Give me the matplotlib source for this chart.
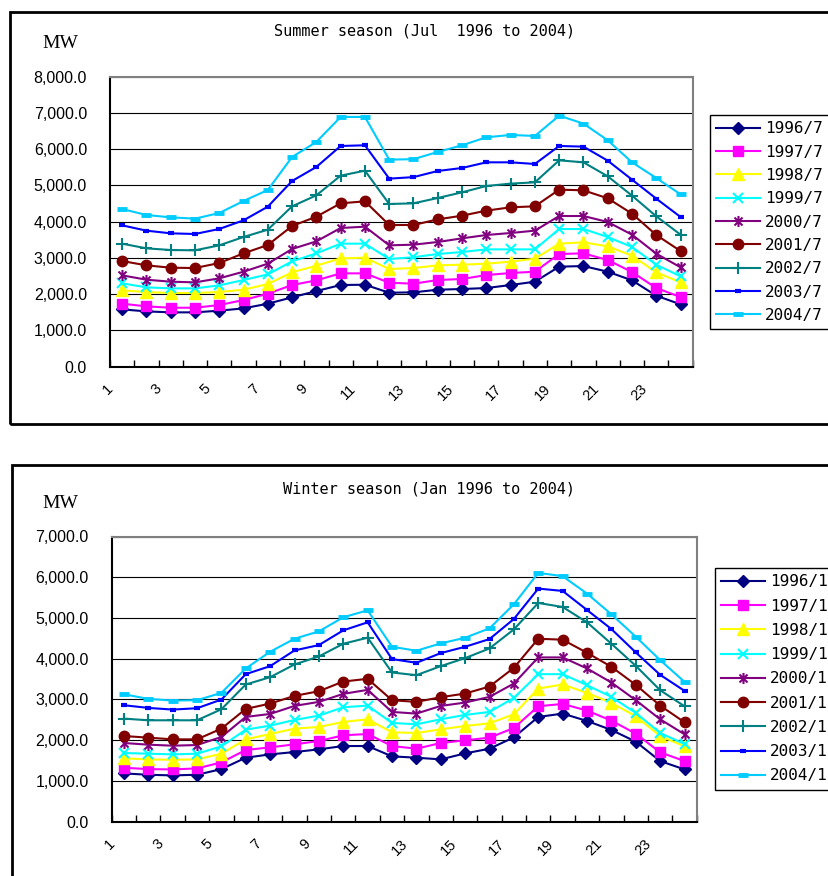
import matplotlib
matplotlib.use("Agg")
import matplotlib.pyplot as plt
from matplotlib.patches import Rectangle
from matplotlib.path import Path
from matplotlib.ticker import FuncFormatter, FixedLocator, MultipleLocator
from matplotlib.transforms import ScaledTranslation

# ---------------------------------------------------------------- data
hours = list(range(1, 25))
hour_tick_labels = ["1", "3", "5", "7", "9", "11", "13", "15", "17", "19", "21", "23"]

summer_labels = ["1996/7", "1997/7", "1998/7", "1999/7", "2000/7",
                 "2001/7", "2002/7", "2003/7", "2004/7"]
winter_labels = ["1996/1", "1997/1", "1998/1", "1999/1", "2000/1",
                 "2001/1", "2002/1", "2003/1", "2004/1"]

summer_1996 = [1581, 1526, 1499, 1499, 1545, 1609, 1738, 1913, 2087, 2253, 2262, 2041,
               2051, 2124, 2143, 2170, 2253, 2345, 2759, 2777, 2621, 2382, 1959, 1720]
summer_1997 = [1738, 1664, 1627, 1627, 1701, 1839, 2014, 2253, 2382, 2575, 2575, 2317,
               2290, 2391, 2419, 2529, 2584, 2621, 3109, 3127, 2943, 2612, 2170, 1922]
summer_1998 = [2106, 2060, 2032, 2032, 2060, 2124, 2281, 2603, 2787, 2989, 3007, 2695,
               2722, 2796, 2814, 2842, 2897, 2980, 3394, 3431, 3320, 3063, 2603, 2327]
summer_1999 = [2299, 2189, 2161, 2161, 2244, 2391, 2547, 2906, 3127, 3394, 3394, 2971,
               3020, 3109, 3164, 3237, 3237, 3237, 3798, 3798, 3578, 3302, 2814, 2492]
summer_2000 = [2520, 2400, 2345, 2327, 2437, 2621, 2842, 3247, 3458, 3826, 3863, 3348,
               3366, 3440, 3541, 3633, 3688, 3753, 4157, 4157, 3992, 3642, 3118, 2741]
summer_2001 = [2915, 2796, 2731, 2722, 2860, 3127, 3357, 3881, 4139, 4507, 4562, 3909,
               3909, 4065, 4166, 4305, 4397, 4424, 4884, 4866, 4645, 4222, 3633, 3191]
summer_2002 = [3394, 3265, 3219, 3210, 3348, 3578, 3780, 4424, 4728, 5270, 5408, 4488,
               4507, 4654, 4810, 4985, 5050, 5086, 5693, 5638, 5252, 4719, 4148, 3642]
summer_2003 = [3900, 3753, 3679, 3661, 3799, 4038, 4415, 5123, 5510, 6089, 6108, 5188,
               5230, 5399, 5482, 5638, 5638, 5592, 6089, 6071, 5684, 5160, 4636, 4130]
summer_2004 = [4350, 4185, 4120, 4084, 4240, 4571, 4875, 5786, 6200, 6890, 6890, 5712,
               5725, 5924, 6108, 6328, 6393, 6365, 6926, 6706, 6246, 5638, 5206, 4755]

winter_1996 = [1181, 1148, 1132, 1148, 1287, 1567, 1649, 1706, 1772, 1854, 1854, 1600,
               1567, 1526, 1673, 1788, 2067, 2568, 2650, 2470, 2248, 1961, 1485, 1279]
winter_1997 = [1320, 1287, 1279, 1304, 1452, 1756, 1821, 1895, 1977, 2117, 2149, 1854,
               1788, 1928, 1994, 2059, 2297, 2831, 2888, 2724, 2478, 2158, 1698, 1485]
winter_1998 = [1550, 1525, 1517, 1525, 1665, 2018, 2149, 2281, 2322, 2445, 2511, 2191,
               2174, 2264, 2346, 2412, 2634, 3266, 3365, 3159, 2913, 2585, 2100, 1846]
winter_1999 = [1682, 1665, 1649, 1665, 1846, 2256, 2355, 2494, 2601, 2806, 2847, 2420,
               2388, 2511, 2618, 2691, 3036, 3619, 3619, 3348, 3061, 2667, 2174, 1903]
winter_2000 = [1928, 1887, 1862, 1878, 2076, 2568, 2642, 2839, 2938, 3135, 3233, 2691,
               2650, 2839, 2921, 3061, 3389, 4030, 4030, 3759, 3414, 2979, 2511, 2142]
winter_2001 = [2100, 2059, 2018, 2018, 2281, 2765, 2897, 3085, 3200, 3438, 3504, 2979,
               2938, 3053, 3143, 3315, 3775, 4489, 4465, 4144, 3800, 3356, 2847, 2437]
winter_2002 = [2527, 2486, 2486, 2486, 2757, 3365, 3545, 3857, 4054, 4366, 4514, 3660,
               3594, 3816, 4013, 4251, 4719, 5368, 5269, 4892, 4366, 3824, 3225, 2831]
winter_2003 = [2856, 2790, 2749, 2782, 2995, 3619, 3816, 4202, 4333, 4695, 4892, 3989,
               3898, 4136, 4292, 4481, 4974, 5721, 5663, 5195, 4727, 4153, 3603, 3209]
winter_2004 = [3126, 3012, 2971, 2979, 3159, 3759, 4169, 4489, 4670, 5015, 5187, 4292,
               4194, 4374, 4514, 4744, 5335, 6107, 6025, 5598, 5089, 4539, 3964, 3430]

summer_series = [summer_1996, summer_1997, summer_1998, summer_1999, summer_2000,
                 summer_2001, summer_2002, summer_2003, summer_2004]
winter_series = [winter_1996, winter_1997, winter_1998, winter_1999, winter_2000,
                 winter_2001, winter_2002, winter_2003, winter_2004]

# ---------------------------------------------------------------- styles
# asterisk: vertical bar plus a diagonal cross
asterisk = Path([(0, -1), (0, 1), (-0.72, -0.72), (0.72, 0.72), (-0.72, 0.72), (0.72, -0.72)],
                [Path.MOVETO, Path.LINETO] * 3)

styles = [
    dict(color="#000080", marker="D", ms=6.0, mew=1.0, filled=True),
    dict(color="#FF00FF", marker="s", ms=7.0, mew=1.0, filled=True),
    dict(color="#FFFF00", marker="^", ms=8.0, mew=1.0, filled=True),
    dict(color="#00FFFF", marker="x", ms=7.0, mew=1.5, filled=False),
    dict(color="#800080", marker=asterisk, ms=8.0, mew=1.5, filled=False),
    dict(color="#800000", marker="o", ms=7.5, mew=1.0, filled=True),
    dict(color="#008080", marker="+", ms=8.0, mew=1.5, filled=False),
    dict(color="#0000FF", marker="_", ms=4.5, mew=3.0, filled=False),
    dict(color="#00CCFF", marker="_", ms=6.5, mew=3.5, filled=False),
]

TEXT_FONT = "DejaVu Sans Mono"

W, H = 829, 876
fig = plt.figure(figsize=(W / 100, H / 100), dpi=100)


def fx(px):
    return px / W


def fy(py):
    return 1 - py / H


def panel(left, top, right, bottom, series, labels, ymax, title, title_xy, mw_xy,
          legend_xy, legend_gap, frame):
    ax = fig.add_axes([fx(left), fy(bottom), fx(right - left), (bottom - top) / H])

    for vals, lab, st in zip(series, labels, styles):
        ax.plot(hours, vals, color=st["color"], lw=1.5, marker=st["marker"],
                ms=st["ms"], mew=st["mew"], mec=st["color"],
                mfc=st["color"] if st["filled"] else "none", label=lab,
                clip_on=False, zorder=3)

    ax.set_xlim(0.5, 24.5)
    ax.set_ylim(0, ymax)

    # y axis
    ax.yaxis.set_major_locator(MultipleLocator(1000))
    ax.yaxis.set_major_formatter(FuncFormatter(lambda v, p: f"{v:,.1f}"))
    ax.tick_params(axis="y", length=0, pad=16.5, labelsize=11.5)
    for t in ax.get_yticklabels():
        t.set_fontfamily("Liberation Sans")
    ax.grid(axis="y", color="black", lw=0.8)
    ax.set_axisbelow(True)

    # x axis: tick marks between categories, labels under odd categories
    ax.xaxis.set_major_locator(FixedLocator([i + 0.5 for i in range(0, 25)]))
    ax.xaxis.set_major_formatter(FuncFormatter(lambda v, p: ""))
    ax.tick_params(axis="x", which="major", direction="in", length=5, width=1, color="black")
    ax.set_xticks(hours[::2], minor=True)
    ax.set_xticklabels(hour_tick_labels, minor=True)
    ax.tick_params(axis="x", which="minor", length=0, pad=14.5, labelsize=10.5)
    shift = ScaledTranslation(-11 / 100, 0, fig.dpi_scale_trans)
    for t in ax.xaxis.get_minorticklabels():
        t.set_rotation(45)
        t.set_rotation_mode("anchor")
        t.set_ha("right")
        t.set_va("center")
        t.set_fontfamily("Liberation Sans")
        t.set_transform(t.get_transform() + shift)

    for side in ("left", "bottom"):
        ax.spines[side].set_color("black")
        ax.spines[side].set_linewidth(1.5)
    for side in ("top", "right"):
        ax.spines[side].set_color("#808080")
        ax.spines[side].set_linewidth(1.5)

    fig.text(fx(title_xy[0]), fy(title_xy[1]), title, ha="center", va="center",
             fontsize=11, family=TEXT_FONT)
    fig.text(fx(mw_xy[0]), fy(mw_xy[1]), "MW", ha="center", va="center",
             fontsize=14, family="Liberation Serif")

    leg = ax.legend(loc="upper left", bbox_to_anchor=(fx(legend_xy[0]), fy(legend_xy[1])),
                    bbox_transform=fig.transFigure, borderaxespad=0, frameon=True,
                    fancybox=False, edgecolor="black", framealpha=1,
                    prop=dict(family=TEXT_FONT, size=11.5),
                    handlelength=2.75, handletextpad=0.3, labelspacing=legend_gap,
                    borderpad=0.4)
    leg.get_frame().set_linewidth(1.0)

    fig.add_artist(Rectangle((fx(frame[0]), fy(frame[3])), fx(frame[2] - frame[0]),
                             (frame[3] - frame[1]) / H, transform=fig.transFigure,
                             fill=False, ec="black", lw=2.0))
    return ax


panel(110, 76.7, 692.7, 366.7, summer_series, summer_labels, 8000,
      "Summer season (Jul  1996 to 2004)", (425, 31), (60, 44), (710, 115), 0.52,
      (10, 12, 900, 424))
panel(111.7, 536.5, 696.7, 821.5, winter_series, winter_labels, 7000,
      "Winter season (Jan 1996 to 2004)", (429, 489), (60, 503), (715, 568), 0.58,
      (12, 465, 900, 950))

fig.savefig("out.png", dpi=100)
